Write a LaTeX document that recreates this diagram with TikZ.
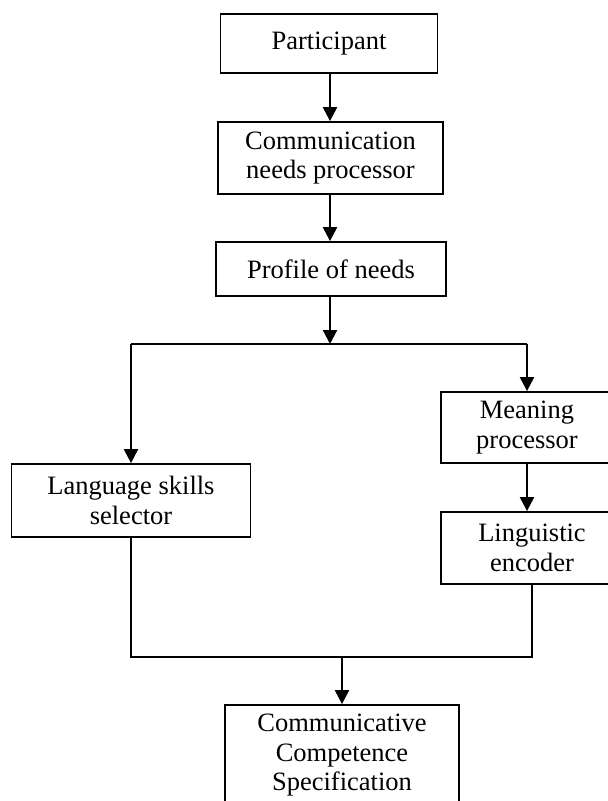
\documentclass[tikz,border=0pt]{standalone}
\usepackage{fontspec}
\setmainfont{Liberation Serif}
\usetikzlibrary{arrows.meta}

\tikzset{
  stage/.style={draw, line width=1.8pt, inner sep=0pt, align=center,
    font=\fontsize{26.5}{29.5}\selectfont},
  arr/.style={line width=2.2pt,
    -{Triangle[length=14pt,width=14pt]}},
  feed/.style={line width=1.4pt},
}

\begin{document}
\begin{tikzpicture}[x=1pt, y=-1pt]
\useasboundingbox (0,0) rectangle (608,801);
\clip (0,0) rectangle (608,801);

% main chain
\node[stage, minimum width=217pt, minimum height=59pt] (part) at (329,43.5) {Participant};
\node[stage, minimum width=225pt, minimum height=72pt] (comm) at (330.5,158) {Communication\\needs processor};
\node[stage, minimum width=230pt, minimum height=54pt] (prof) at (331,269) {Profile of needs};

% two branches
\node[stage, minimum width=239pt, minimum height=73pt] (lang) at (131,500.5) {Language skills\\selector};
\node[stage, minimum width=172pt, minimum height=71pt] (mean) at (527,427.5) {Meaning\\processor};
\node[stage, minimum width=182pt, minimum height=72pt] (ling) at (532,548) {Linguistic\\encoder};

% result
\node[stage, minimum width=234pt, minimum height=101pt] (ccs) at (342,755.5) {Communicative\\Competence\\Specification};

% junction points
\coordinate (fork) at (330,344);
\coordinate (join) at (342,657);

\draw[arr] (part.south -| fork) -- (comm.north -| fork);
\draw[arr] (comm.south -| fork) -- (prof.north -| fork);
\draw[arr] (prof.south -| fork) -- (fork);
\draw[line width=2pt] (lang.north |- fork) -- (mean.north |- fork);
\draw[arr] (lang.north |- fork) -- (lang.north);
\draw[arr] (mean.north |- fork) -- (mean.north);
\draw[arr] (mean.south) -- (mean.south |- ling.north);
\draw[feed] (lang.south) |- (join) -| (ling.south);
\draw[arr] (join) -- (ccs.north);
\end{tikzpicture}
\end{document}
